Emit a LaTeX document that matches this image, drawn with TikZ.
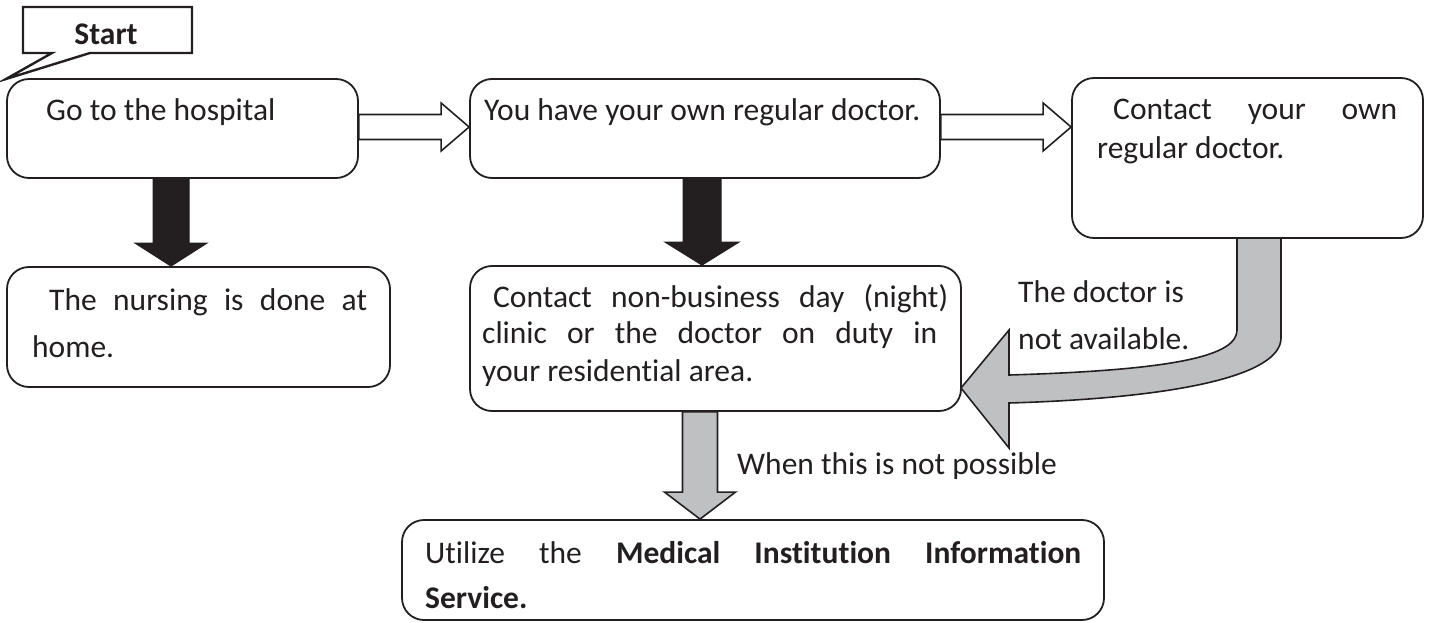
\documentclass[tikz,border=0pt]{standalone}
\usepackage{fontspec}
\setmainfont{Carlito}[Ligatures=NoCommon]
\usetikzlibrary{calc}
\definecolor{ink}{HTML}{231F20}
\definecolor{arrgrey}{HTML}{BFC0C2}
\newcommand{\hollowR}[2]{%
  \draw[hollowarrow] let \p1=#1, \p2=#2 in
   (\x1,\y1+12.5pt) -- (\x2-28pt,\y1+12.5pt) -- (\x2-28pt,\y1+24pt) -- (\x2,\y1)
   -- (\x2-28pt,\y1-24pt) -- (\x2-28pt,\y1-12.5pt) -- (\x1,\y1-12.5pt) -- cycle;}
\newcommand{\downarr}[6]{%
  \draw[#6] let \p1=#1, \p2=#2 in
   (\x1-#3,\y1) -- (\x1-#3,\y2+#5) -- (\x1-#4,\y2+#5) -- (\x1,\y2)
   -- (\x1+#4,\y2+#5) -- (\x1+#3,\y2+#5) -- (\x1+#3,\y1) -- cycle;}
\tikzset{
  box/.style={draw=ink, line width=1.8pt, rounded corners=22pt, fill=white, inner sep=0pt},
  txt/.style={inner sep=0pt, anchor=base west, text=ink, font=\fontsize{31.5pt}{38pt}\selectfont},
  hollowarrow/.style={draw=ink, line width=1.6pt, fill=white, line join=miter},
  blackarrow/.style={draw=ink, line width=1pt, fill=ink},
  greyarrow/.style={draw=ink, line width=1.6pt, fill=arrgrey, line join=miter},
}
\begin{document}
\begin{tikzpicture}[x=1pt, y=-1pt]
\useasboundingbox (0,0) rectangle (1432,623);
% boxes
\node[box, minimum width=351pt, minimum height=99pt] (b1) at (182.5,128.5) {};
\node[box, minimum width=470pt, minimum height=99pt] (b2) at (705,128.5) {};
\node[box, minimum width=351pt, minimum height=160pt] (b3) at (1247.5,158) {};
\node[box, minimum width=383pt, minimum height=120pt] (b4) at (198.5,327) {};
\node[box, minimum width=491pt, minimum height=145pt] (b5) at (715.5,338.5) {};
\node[box, minimum width=702pt, minimum height=100pt] (b6) at (753,570) {};
% start callout
\node[txt, anchor=base, font=\fontsize{31.5pt}{38pt}\selectfont\bfseries] (start) at (106,45) {Start};
\draw[ink, line width=2.4pt, line join=miter] (23,7) -- (192,7) -- (192,53) -- (90,53) -- (6,79) -- (52,53) -- (23,53) -- cycle;
% helper coordinates
\coordinate (y127) at (0,127);
\coordinate (x171) at (171,0);
\coordinate (x702) at (702,0);
\coordinate (x700) at (700,0);
% hollow arrows
\hollowR{(b1.east |- y127)}{(b2.west |- y127)}
\hollowR{(b2.east |- y127)}{(b3.west |- y127)}
% black arrows
\downarr{(x171 |- b1.south)}{(x171 |- b4.north)}{18pt}{36pt}{23pt}{blackarrow}
\downarr{(x702 |- b2.south)}{(x702 |- b5.north)}{19pt}{37pt}{23pt}{blackarrow}
% grey arrow down
\downarr{(x700 |- b5.south)}{(x700 |- b6.north)}{17.5pt}{35.5pt}{27pt}{greyarrow}
% curved grey arrow
\draw[greyarrow] (1237,238) -- (1237,330) .. controls (1237,355) and (1180,370) .. (1009,375)
  -- (1009,330) -- (961,388) -- (1009,448) -- (1009,403)
  .. controls (1180,398) and (1281,375) .. (1281,338) -- (1281,238) -- cycle;
% texts
\node[txt] (t1) at (46,121) {Go to the hospital};
\node[txt] (t2) at (484,121) {You have your own regular doctor.};
\node[txt] (t3a) at (1113,120) {\makebox[284pt][s]{Contact your own}};
\node[txt] (t3b) at (1097,158) {regular doctor.};
\node[txt] (t4a) at (49,310) {\makebox[318pt][s]{The nursing is done at}};
\node[txt] (t4b) at (32,357) {home.};
\node[txt] (t5a) at (493,307) {\makebox[455pt][s]{Contact non-business day (night)}};
\node[txt] (t5b) at (482,343) {\makebox[455pt][s]{clinic or the doctor on duty in}};
\node[txt] (t5c) at (482,381) {your residential area.};
\node[txt] (l1a) at (1018,302) {The doctor is};
\node[txt] (l1b) at (1018,349) {not available.};
\node[txt] (l2) at (737,474) {When this is not possible};
\node[txt] (t6a) at (425,563) {\makebox[656pt][s]{Utilize the \textbf{Medical Institution Information}}};
\node[txt] (t6b) at (425,608) {\textbf{Service.}};
\end{tikzpicture}
\end{document}
